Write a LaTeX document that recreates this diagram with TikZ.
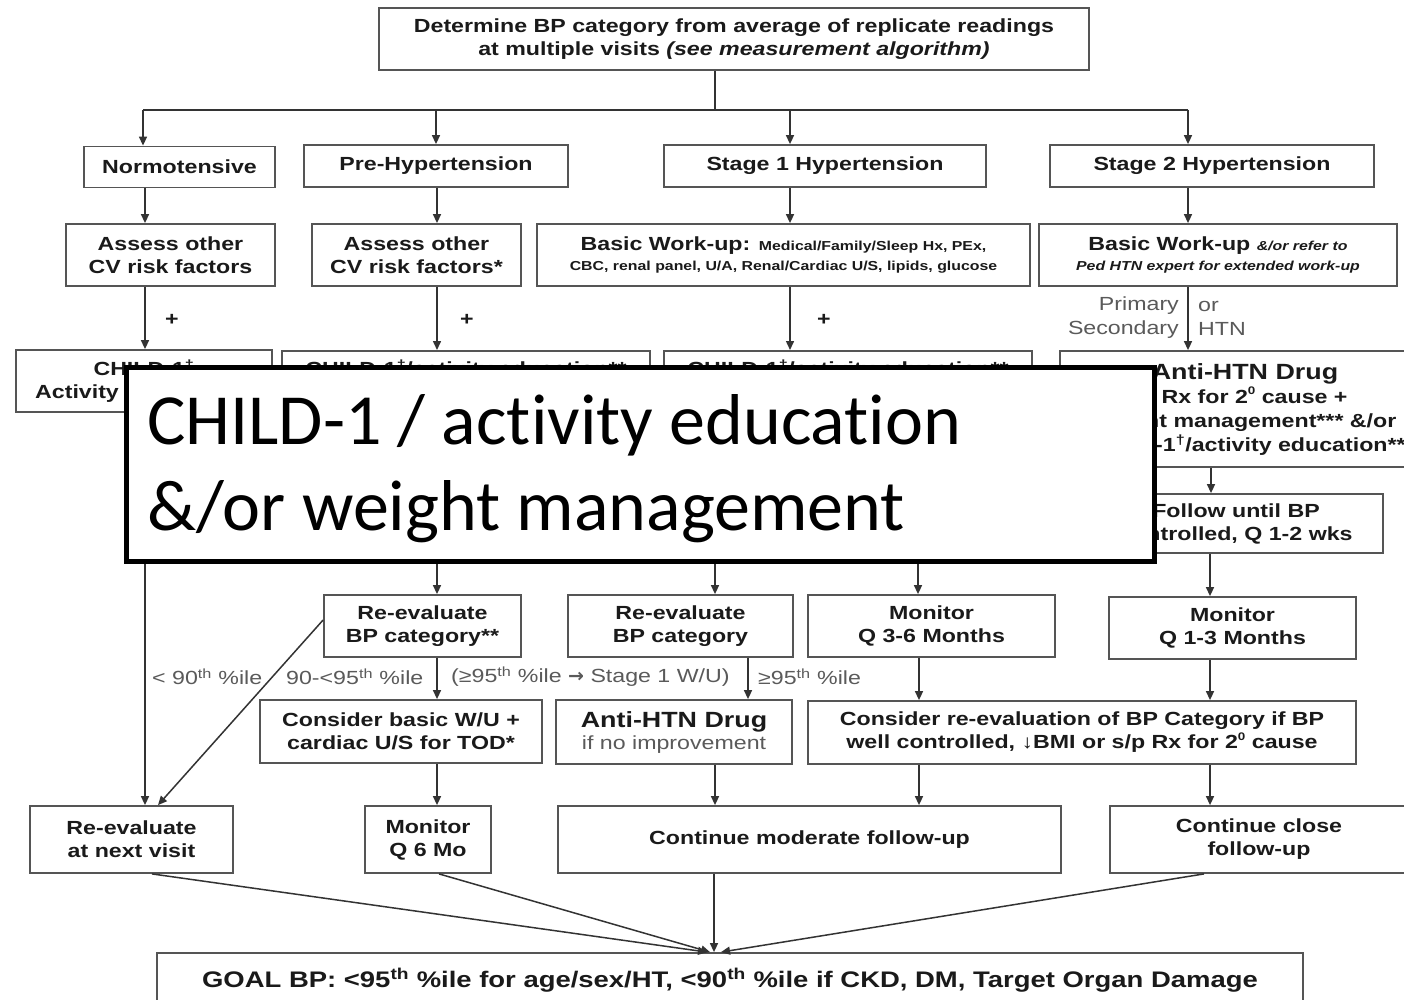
\documentclass[tikz,border=0pt]{standalone}
\usepackage{fontspec}
\setmainfont{Liberation Sans}[FakeStretch=1.22]
\newfontfamily\overfont{Carlito}[Ligatures=NoCommon]
\newfontfamily\arrowfont{DejaVu Sans}
\usetikzlibrary{arrows.meta}
\definecolor{boxgray}{HTML}{555555}
\definecolor{linegray}{HTML}{333333}
\definecolor{txt}{HTML}{1A1A1A}
\definecolor{lblgray}{HTML}{5A5A5A}
\tikzset{
 box/.style={draw=boxgray, line width=1.8pt, fill=white, align=center, inner sep=0pt, text=txt, font=\bfseries\fontsize{19}{23}\selectfont},
 arr/.style={draw=linegray, line width=1.5pt, -{Triangle[length=9pt,width=8pt]}},
 ln/.style={draw=linegray, line width=1.5pt},
 lbl/.style={text=lblgray, font=\fontsize{19}{24}\selectfont, inner sep=0pt},
 plus/.style={text=txt, font=\bfseries\fontsize{19}{23}\selectfont, inner sep=0pt},
 ovtext/.style={anchor=base west, inner sep=0pt, font=\overfont\fontsize{72}{86}\selectfont},
}
\newcommand{\smallb}{\fontsize{13}{15}\selectfont}
\newcommand{\bigb}{\fontsize{22}{25}\selectfont}
\newcommand{\supz}{\raisebox{0.45em}{\fontsize{11}{11}\selectfont 0}}
\begin{document}
\begin{tikzpicture}[x=1pt,y=-1pt]
\useasboundingbox (0,0) rectangle (1404,1000);
\fill[white] (0,0) rectangle (1404,1000);

% top
\node[box, minimum width=710pt, minimum height=62pt] (top) at (734,39)
 {Determine BP category from average of replicate readings\\at multiple visits \textit{(see measurement algorithm)}};

% row 1
\node[box, minimum width=191pt, minimum height=41pt] (normo) at (179.5,167) {Normotensive};
\node[box, minimum width=264pt, minimum height=42pt] (prehyp) at (436,166) {Pre-Hypertension};
\node[box, minimum width=322pt, minimum height=42pt] (stage1) at (825,166) {Stage 1 Hypertension};
\node[box, minimum width=324pt, minimum height=42pt] (stage2) at (1212,166) {Stage 2 Hypertension};

% row 2
\node[box, minimum width=209pt, minimum height=62pt] (assess1) at (170.5,255) {Assess other\\CV risk factors};
\node[box, minimum width=209pt, minimum height=62pt] (assess2) at (416.5,255) {Assess other\\CV risk factors*};
\node[box, minimum width=493pt, minimum height=62pt] (basic1) at (783.5,255)
 {Basic Work-up: {\smallb Medical/Family/Sleep Hx, PEx,}\\[-3pt]{\smallb CBC, renal panel, U/A, Renal/Cardiac U/S, lipids, glucose}};
\node[box, minimum width=358pt, minimum height=62pt] (basic2) at (1218,255)
 {Basic Work-up {\smallb\itshape \&/or refer to}\\[-3pt]{\smallb\itshape Ped HTN expert for extended work-up}};

% row 3
\node[box, minimum width=256pt, minimum height=62pt] (child1) at (144,381) {CHILD-1\textsuperscript{†}\\Activity education**};
\node[box, minimum width=368pt, text height=25pt, text depth=37pt, anchor=north] (child2) at (466,350) {CHILD-1\textsuperscript{†}/activity education**};
\node[box, minimum width=368pt, text height=25pt, text depth=37pt, anchor=north] (child3) at (848,350) {CHILD-1\textsuperscript{†}/activity education**};
\node[box, minimum width=370pt, minimum height=116pt, font=\bfseries\fontsize{19}{24}\selectfont] (drug2) at (1245,409)
 {{\bigb Anti-HTN Drug}\\± Rx for 2\supz{} cause +\\weight management*** \&/or\\CHILD-1\textsuperscript{†}/activity education**};
\node[box, minimum width=294pt, minimum height=59pt] (follow) at (1236,523.5) {Follow until BP\\controlled, Q 1-2 wks};

% row 4
\node[box, minimum width=197pt, minimum height=62pt] (reevalA) at (422.5,626) {Re-evaluate\\BP category**};
\node[box, minimum width=225pt, minimum height=62pt] (reevalB) at (680.5,626) {Re-evaluate\\BP category};
\node[box, minimum width=247pt, minimum height=62pt] (mon36) at (931.5,626) {Monitor\\Q 3-6 Months};
\node[box, minimum width=247pt, minimum height=62pt] (mon13) at (1232.5,628) {Monitor\\Q 1-3 Months};

% row 5
\node[box, minimum width=282pt, minimum height=63pt] (conbasic) at (401,731.5) {Consider basic W/U +\\cardiac U/S for TOD*};
\node[box, minimum width=236pt, minimum height=64pt] (drug1) at (674,732)
 {{\bigb Anti-HTN Drug}\\[-1pt]{\mdseries\color{lblgray}if no improvement}};
\node[box, minimum width=548pt, minimum height=63pt] (conre) at (1082,732.5)
 {Consider re-evaluation of BP Category if BP\\well controlled, ↓BMI or s/p Rx for 2\supz{} cause};

% row 6
\node[box, minimum width=203pt, minimum height=67pt] (next) at (131.5,839.5) {Re-evaluate\\at next visit};
\node[box, minimum width=126pt, minimum height=67pt] (mon6) at (428,839.5) {Monitor\\Q 6 Mo};
\node[box, minimum width=503pt, minimum height=67pt] (contmod) at (809.5,839.5) {Continue moderate follow-up};
\node[box, minimum width=298pt, minimum height=67pt] (contclose) at (1259,839.5) {Continue close\\follow-up};

% goal
\node[box, minimum width=1146pt, minimum height=54pt, font=\bfseries\fontsize{22.5}{26}\selectfont] (goal) at (730,980)
 {GOAL BP: <95\textsuperscript{th} \%ile for age/sex/HT, <90\textsuperscript{th} \%ile if CKD, DM, Target Organ Damage};

% connectors top
\coordinate (br) at (715,110);
\draw[ln] (715,0 |- top.south) -- (br);
\draw[ln] (143,110) -- (1188,110);
\draw[arr] (143,110) -- (143,0 |- normo.north);
\draw[arr] (436,110) -- (436,0 |- prehyp.north);
\draw[arr] (790,110) -- (790,0 |- stage1.north);
\draw[arr] (1188,110) -- (1188,0 |- stage2.north);

% row1 -> row2
\draw[arr] (145,0 |- normo.south) -- (145,0 |- assess1.north);
\draw[arr] (437,0 |- prehyp.south) -- (437,0 |- assess2.north);
\draw[arr] (790,0 |- stage1.south) -- (790,0 |- basic1.north);
\draw[arr] (1188,0 |- stage2.south) -- (1188,0 |- basic2.north);

% row2 -> row3
\draw[arr] (145,0 |- assess1.south) -- (145,0 |- child1.north);
\draw[arr] (437,0 |- assess2.south) -- (437,0 |- child2.north);
\draw[arr] (790,0 |- basic1.south) -- (790,0 |- child3.north);
\draw[arr] (1188,0 |- basic2.south) -- (1188,0 |- drug2.north);
\node[plus] (p1) at (172,320) {+};
\node[plus] (p2) at (467,320) {+};
\node[plus] (p3) at (824,320) {+};
\node[lbl, align=right, anchor=east] (prim) at (1179,318) {Primary\\Secondary};
\node[lbl, align=left, anchor=west] (orhtn) at (1198,318) {or\\HTN};
\draw[arr] (1211,0 |- drug2.south) -- (1211,0 |- follow.north);

% row3 -> row4 / row6
\draw[arr] (145,0 |- child1.south) -- (145,0 |- next.north);
\draw[arr] (437,0 |- child2.south) -- (437,0 |- reevalA.north);
\draw[arr] (715,0 |- child3.south) -- (715,0 |- reevalB.north);
\draw[arr] (918,0 |- child3.south) -- (918,0 |- mon36.north);
\draw[arr] (1210,0 |- follow.south) -- (1210,0 |- mon13.north);

% labels row
\node[lbl, anchor=west] (l1) at (152,677) {< 90\textsuperscript{th} \%ile};
\node[lbl, anchor=west] (l2) at (286,677) {90-<95\textsuperscript{th} \%ile};
\node[lbl, anchor=west] (l3) at (451,677) {(≥95\textsuperscript{th} \%ile {\arrowfont\bfseries →} Stage 1 W/U)};
\node[lbl, anchor=west] (l4) at (758,677) {≥95\textsuperscript{th} \%ile};

% row4 -> row5
\draw[arr] (reevalA.west |- 0,620) -- (158,0 |- next.north);
\draw[arr] (437,0 |- reevalA.south) -- (437,0 |- conbasic.north);
\draw[arr] (748,0 |- reevalB.south) -- (748,0 |- drug1.north);
\draw[arr] (919,0 |- mon36.south) -- (919,0 |- conre.north);
\draw[arr] (1210,0 |- mon13.south) -- (1210,0 |- conre.north);

% row5 -> row6
\draw[arr] (437,0 |- conbasic.south) -- (437,0 |- mon6.north);
\draw[arr] (715,0 |- drug1.south) -- (715,0 |- contmod.north);
\draw[arr] (919,0 |- conre.south) -- (919,0 |- contmod.north);
\draw[arr] (1210,0 |- conre.south) -- (1210,0 |- contclose.north);

% row6 -> goal
\draw[arr] (152,0 |- next.south) -- (707,0 |- goal.north);
\draw[arr] (439,0 |- mon6.south) -- (710,0 |- goal.north);
\draw[arr] (714,0 |- contmod.south) -- (714,0 |- goal.north);
\draw[arr] (1204,0 |- contclose.south) -- (721,0 |- goal.north);

% overlay
\node[draw=black, line width=5pt, fill=white, minimum width=1028pt, minimum height=194pt, inner sep=0pt] (overlay) at (640.5,464.5) {};
\node[ovtext] (ov1) at (147,444) {CHILD-1 / activity education};
\node[ovtext] (ov2) at (147,530) {\&/or weight management};
\end{tikzpicture}
\end{document}
